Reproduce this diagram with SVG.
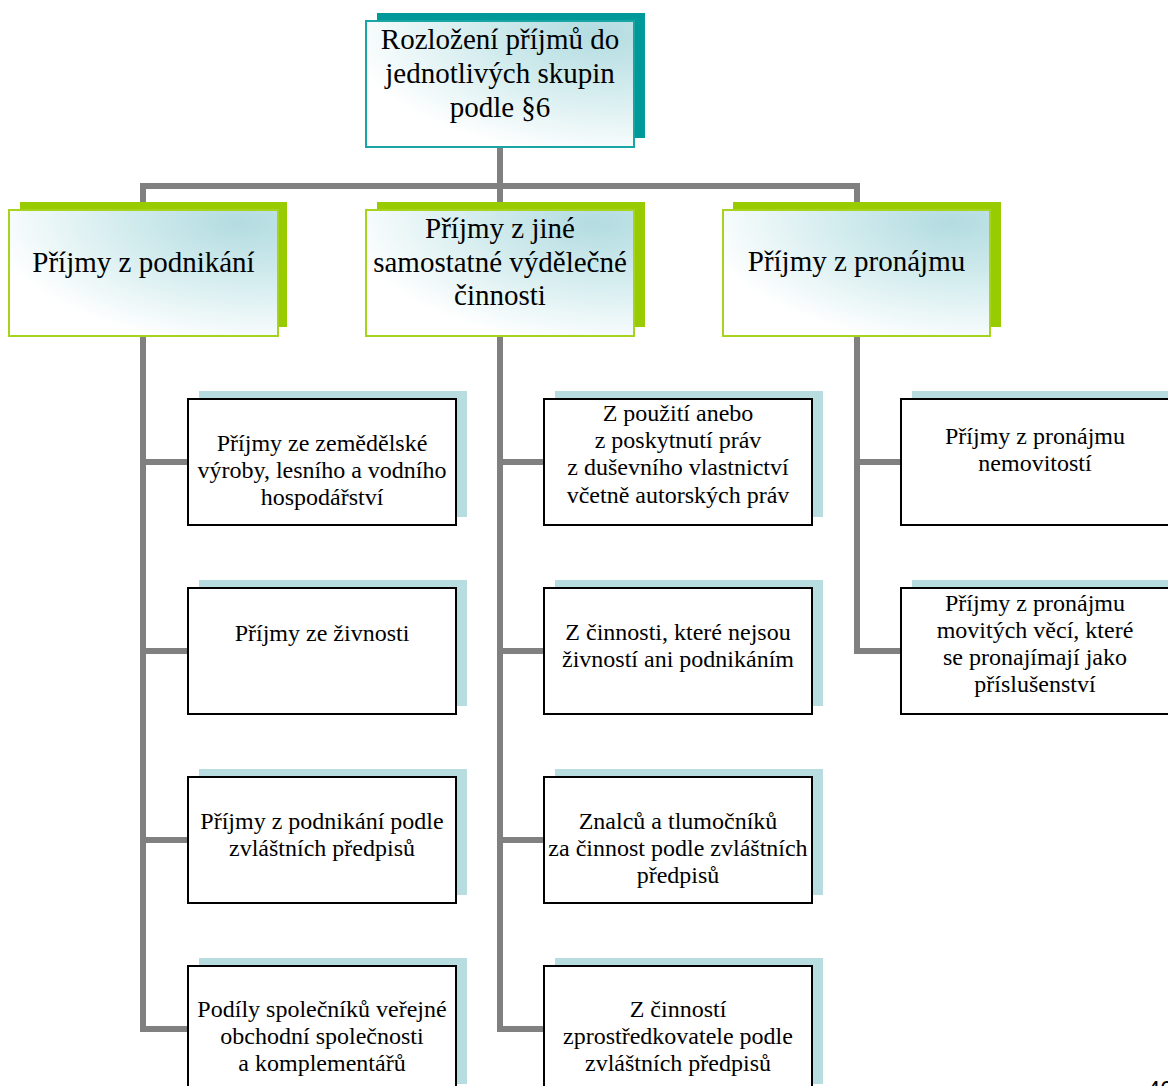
<svg xmlns="http://www.w3.org/2000/svg" width="1168" height="1086" viewBox="0 0 1168 1086">
<defs>
<radialGradient id="g" cx="1" cy="0" r="1.1" fx="0.85" fy="0.1">
<stop offset="0" stop-color="#b3dce1"/>
<stop offset="0.45" stop-color="#d3ecee"/>
<stop offset="1" stop-color="#ffffff"/>
</radialGradient>
<style>
.t{font-family:"Liberation Serif","Times New Roman",serif;fill:#000;text-anchor:middle}
.big{font-size:29px}
.sm{font-size:24px}
.con{fill:none;stroke:#808080;stroke-width:6}
.leaf{fill:#fff;stroke:#000;stroke-width:2}
.lsh{fill:#b7dde1}
.l2{fill:url(#g);stroke:#a6d41e;stroke-width:2}
.l2s{fill:#99cc00}
</style>
</defs>
<rect width="1168" height="1086" fill="#fff"/>
<g id="connectors">
<path class="con" d="M500 147 V210"/>
<path class="con" d="M143 210 V186 H857 V210"/>
<path class="con" d="M143 336 V1029 H188 M143 462 H188 M143 651 H188 M143 840 H188"/>
<path class="con" d="M500 336 V1029 H545 M500 462 H545 M500 651 H545 M500 840 H545"/>
<path class="con" d="M857 336 V651 H901 M857 462 H901"/>
</g>
<g id="root">
<rect x="377" y="13" width="268" height="125" fill="#009999"/>
<rect x="366" y="21" width="268" height="126" fill="url(#g)" stroke="#1aa5a5" stroke-width="2"/>
<text class="t big" x="500" y="49">Rozložení příjmů do</text>
<text class="t big" x="500" y="83">jednotlivých skupin</text>
<text class="t big" x="500" y="117">podle §6</text>
</g>
<g id="n-podnikani">
<rect class="l2s" x="20" y="202" width="267" height="125"/>
<rect class="l2" x="9" y="210" width="269" height="126"/>
<text class="t big" x="143.5" y="272">Příjmy z podnikání</text>
</g>
<g id="n-jine">
<rect class="l2s" x="377" y="202" width="268" height="125"/>
<rect class="l2" x="366" y="210" width="268" height="126"/>
<text class="t big" x="500" y="238">Příjmy z jiné</text>
<text class="t big" x="500" y="272">samostatné výdělečné</text>
<text class="t big" x="500" y="305">činnosti</text>
</g>
<g id="n-pronajem">
<rect class="l2s" x="733" y="202" width="268" height="125"/>
<rect class="l2" x="723" y="210" width="267" height="126"/>
<text class="t big" x="856.5" y="271">Příjmy z pronájmu</text>
</g>
<g id="a1">
<rect class="lsh" x="199" y="391" width="268" height="126"/>
<rect class="leaf" x="188" y="399" width="268" height="126"/>
<text class="t sm" x="322" y="451">Příjmy ze zemědělské</text>
<text class="t sm" x="322" y="478">výroby, lesního a vodního</text>
<text class="t sm" x="322" y="505">hospodářství</text>
</g>
<g id="a2">
<rect class="lsh" x="199" y="580" width="268" height="126"/>
<rect class="leaf" x="188" y="588" width="268" height="126"/>
<text class="t sm" x="322" y="641">Příjmy ze živnosti</text>
</g>
<g id="a3">
<rect class="lsh" x="199" y="769" width="268" height="126"/>
<rect class="leaf" x="188" y="777" width="268" height="126"/>
<text class="t sm" x="322" y="829">Příjmy z podnikání podle</text>
<text class="t sm" x="322" y="856">zvláštních předpisů</text>
</g>
<g id="a4">
<rect class="lsh" x="199" y="958" width="268" height="126"/>
<rect class="leaf" x="188" y="966" width="268" height="126"/>
<text class="t sm" x="322" y="1017">Podíly společníků veřejné</text>
<text class="t sm" x="322" y="1044">obchodní společnosti</text>
<text class="t sm" x="322" y="1071">a komplementářů</text>
</g>
<g id="b1">
<rect class="lsh" x="555" y="391" width="268" height="126"/>
<rect class="leaf" x="544" y="399" width="268" height="126"/>
<text class="t sm" x="678" y="421">Z použití anebo</text>
<text class="t sm" x="678" y="448">z poskytnutí práv</text>
<text class="t sm" x="678" y="475">z duševního vlastnictví</text>
<text class="t sm" x="678" y="503">včetně autorských práv</text>
</g>
<g id="b2">
<rect class="lsh" x="555" y="580" width="268" height="126"/>
<rect class="leaf" x="544" y="588" width="268" height="126"/>
<text class="t sm" x="678" y="640">Z činnosti, které nejsou</text>
<text class="t sm" x="678" y="667">živností ani podnikáním</text>
</g>
<g id="b3">
<rect class="lsh" x="555" y="769" width="268" height="126"/>
<rect class="leaf" x="544" y="777" width="268" height="126"/>
<text class="t sm" x="678" y="829">Znalců a tlumočníků</text>
<text class="t sm" x="678" y="856">za činnost podle zvláštních</text>
<text class="t sm" x="678" y="883">předpisů</text>
</g>
<g id="b4">
<rect class="lsh" x="555" y="958" width="268" height="126"/>
<rect class="leaf" x="544" y="966" width="268" height="126"/>
<text class="t sm" x="678" y="1017">Z činností</text>
<text class="t sm" x="678" y="1044">zprostředkovatele podle</text>
<text class="t sm" x="678" y="1071">zvláštních předpisů</text>
</g>
<g id="c1">
<rect class="lsh" x="912" y="391" width="268" height="126"/>
<rect class="leaf" x="901" y="399" width="268" height="126"/>
<text class="t sm" x="1035" y="444">Příjmy z pronájmu</text>
<text class="t sm" x="1035" y="471">nemovitostí</text>
</g>
<g id="c2">
<rect class="lsh" x="912" y="580" width="268" height="126"/>
<rect class="leaf" x="901" y="588" width="268" height="126"/>
<text class="t sm" x="1035" y="611">Příjmy z pronájmu</text>
<text class="t sm" x="1035" y="638">movitých věcí, které</text>
<text class="t sm" x="1035" y="665">se pronajímají jako</text>
<text class="t sm" x="1035" y="692">příslušenství</text>
</g>
<text x="1147" y="1098" font-family="Liberation Sans, Arial, sans-serif" font-size="24" fill="#000">40</text>
</svg>
